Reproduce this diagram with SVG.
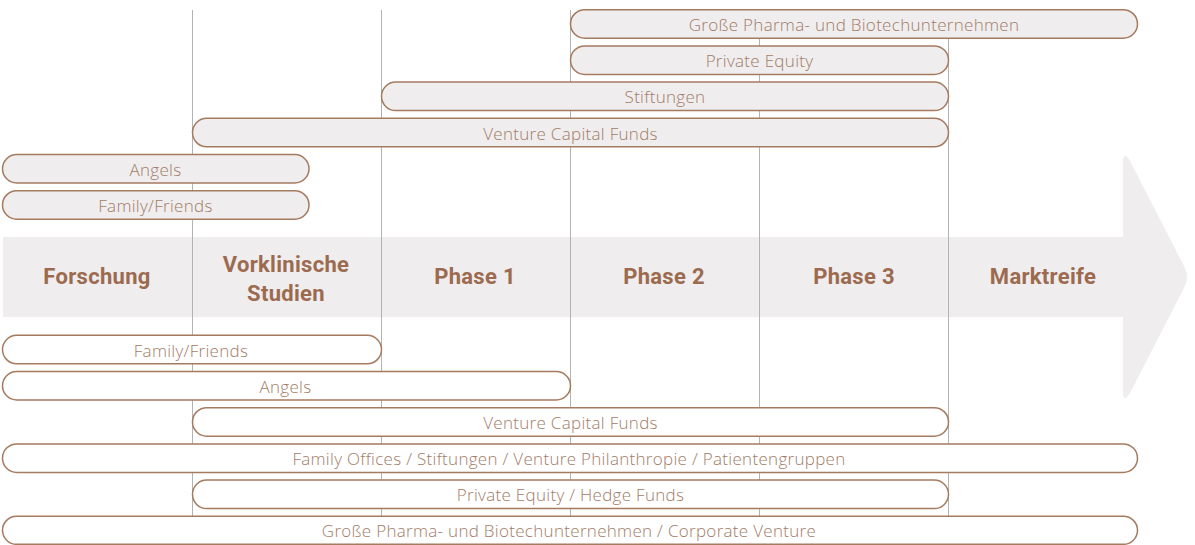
<svg xmlns="http://www.w3.org/2000/svg" width="1195" height="545" viewBox="0 0 1195 545">
<style>
.bar{stroke:#a57b60;stroke-width:1.5}
.top{fill:#efedee}
.bot{fill:#ffffff}
.bt{font-family:"Open Sans","Liberation Sans",sans-serif;font-weight:300;font-size:17px;letter-spacing:0.3px;fill:#a27c66;text-anchor:middle}
.hd{font-family:Roboto,"Liberation Sans",sans-serif;font-weight:700;font-size:22px;letter-spacing:0.3px;fill:#9c6b4f;text-anchor:middle}
.vl{stroke:#b3b3b3;stroke-width:1}
</style>
<rect width="1195" height="545" fill="#ffffff"/>
<g id="arrow">
<path d="M3,237 H1123 V163 Q1123,150 1130,161 L1184,266 Q1190,277 1184,288 L1130,393 Q1123,404 1123,391 V317 H3 Z" fill="#efedee"/>
</g>
<g id="gridlines">
<line class="vl" x1="192.5" y1="10" x2="192.5" y2="516"/>
<line class="vl" x1="381.5" y1="10" x2="381.5" y2="516"/>
<line class="vl" x1="570.5" y1="10" x2="570.5" y2="516"/>
<line class="vl" x1="759.5" y1="10" x2="759.5" y2="516"/>
<line class="vl" x1="948.5" y1="10" x2="948.5" y2="516"/>
</g>
<g id="headers">
<text class="hd" x="97" y="284">Forschung</text>
<text class="hd" x="286" y="272">Vorklinische</text>
<text class="hd" x="286" y="301">Studien</text>
<text class="hd" x="475" y="284">Phase 1</text>
<text class="hd" x="664" y="284">Phase 2</text>
<text class="hd" x="854" y="284">Phase 3</text>
<text class="hd" x="1043" y="284">Marktreife</text>
</g>
<g id="top-pharma"><rect class="bar top" x="570.5" y="9.7" width="567" height="28.5" rx="14.25"/><text class="bt" x="854" y="31">Große Pharma- und Biotechunternehmen</text></g>
<g id="top-pe"><rect class="bar top" x="570.5" y="45.9" width="378" height="28.5" rx="14.25"/><text class="bt" x="759.5" y="67.2">Private Equity</text></g>
<g id="top-stiftungen"><rect class="bar top" x="381.5" y="82.1" width="567" height="28.5" rx="14.25"/><text class="bt" x="665" y="103.4">Stiftungen</text></g>
<g id="top-vcf"><rect class="bar top" x="192.5" y="118.3" width="756" height="28.5" rx="14.25"/><text class="bt" x="570.5" y="139.6">Venture Capital Funds</text></g>
<g id="top-angels"><rect class="bar top" x="2.5" y="154.5" width="306.5" height="28.5" rx="14.25"/><text class="bt" x="155.5" y="175.8">Angels</text></g>
<g id="top-ff"><rect class="bar top" x="2.5" y="190.7" width="306.5" height="28.5" rx="14.25"/><text class="bt" x="155.5" y="212">Family/Friends</text></g>
<g id="bot-ff"><rect class="bar bot" x="2.5" y="335.3" width="379" height="28.5" rx="14.25"/><text class="bt" x="191" y="356.6">Family/Friends</text></g>
<g id="bot-angels"><rect class="bar bot" x="2.5" y="371.5" width="568" height="28.5" rx="14.25"/><text class="bt" x="285.5" y="392.8">Angels</text></g>
<g id="bot-vcf"><rect class="bar bot" x="192.5" y="407.7" width="756" height="28.5" rx="14.25"/><text class="bt" x="570.5" y="429">Venture Capital Funds</text></g>
<g id="bot-fo"><rect class="bar bot" x="2.5" y="443.9" width="1135" height="28.5" rx="14.25"/><text class="bt" x="569" y="465.2">Family Offices / Stiftungen / Venture Philanthropie / Patientengruppen</text></g>
<g id="bot-pe"><rect class="bar bot" x="192.5" y="480.1" width="756" height="28.5" rx="14.25"/><text class="bt" x="570.5" y="501.4">Private Equity / Hedge Funds</text></g>
<g id="bot-pharma"><rect class="bar bot" x="2.5" y="516.3" width="1135" height="28" rx="14"/><text class="bt" x="569" y="537.3">Große Pharma- und Biotechunternehmen / Corporate Venture</text></g>
</svg>
